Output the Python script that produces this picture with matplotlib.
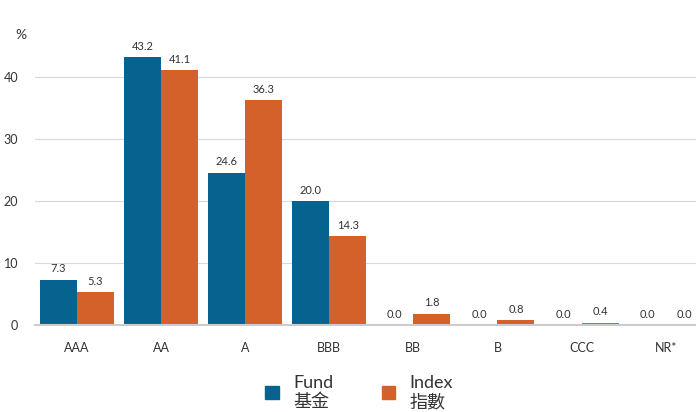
import numpy as np
import matplotlib.pyplot as plt
from matplotlib.patches import Patch

plt.rcParams['font.family'] = ['Lato', 'Noto Sans CJK TC', 'DejaVu Sans']

ratings = ["AAA", "AA", "A", "BBB", "BB", "B", "CCC", "NR*"]
fund = [7.3, 43.2, 24.6, 20.0, 0.0, 0.0, 0.0, 0.0]
index = [5.3, 41.1, 36.3, 14.3, 1.8, 0.8, 0.4, 0.0]

blue = "#06628f"
orange = "#d4602a"
txt = "#333333"

fig = plt.figure(figsize=(6.96, 4.12), dpi=100)
ax = fig.add_axes([0.05, 0.211, 0.95, 0.68])

x = np.arange(len(ratings))
w = 0.44
b1 = ax.bar(x - w / 2, fund, w, color=blue)
b2 = ax.bar(x + w / 2, index, w, color=orange)
ax.bar_label(b1, fmt="%.1f", padding=4, fontsize=8, color=txt)
ax.bar_label(b2, fmt="%.1f", padding=4, fontsize=8, color=txt)

ax.set_xlim(-0.5, 7.36)
ax.set_ylim(0, 45.2)
ax.set_yticks([0, 10, 20, 30, 40])
ax.set_xticks(x)
ax.set_xticklabels(ratings)
ax.tick_params(axis="both", length=0, labelsize=9, colors=txt)
ax.tick_params(axis="x", pad=12)
ax.tick_params(axis="y", pad=12)
ax.grid(axis="y", color="#d9d9d9", linewidth=0.8)
ax.set_axisbelow(True)
for s in ["top", "right", "left"]:
    ax.spines[s].set_visible(False)
ax.spines["bottom"].set_color("#cccccc")
ax.spines["bottom"].set_linewidth(1.5)

fig.text(0.022, 0.905, "%", fontsize=10, color=txt)

handles = [Patch(color=blue), Patch(color=orange)]
fig.legend(handles, ["Fund\n基金", "Index\n指數"], loc="lower center",
           bbox_to_anchor=(0.516, -0.035), ncol=2, frameon=False,
           fontsize=13, handlelength=0.75, handleheight=0.75,
           columnspacing=2.7, handletextpad=0.8, labelcolor=txt,
           labelspacing=0.2)

fig.savefig("out.png")
